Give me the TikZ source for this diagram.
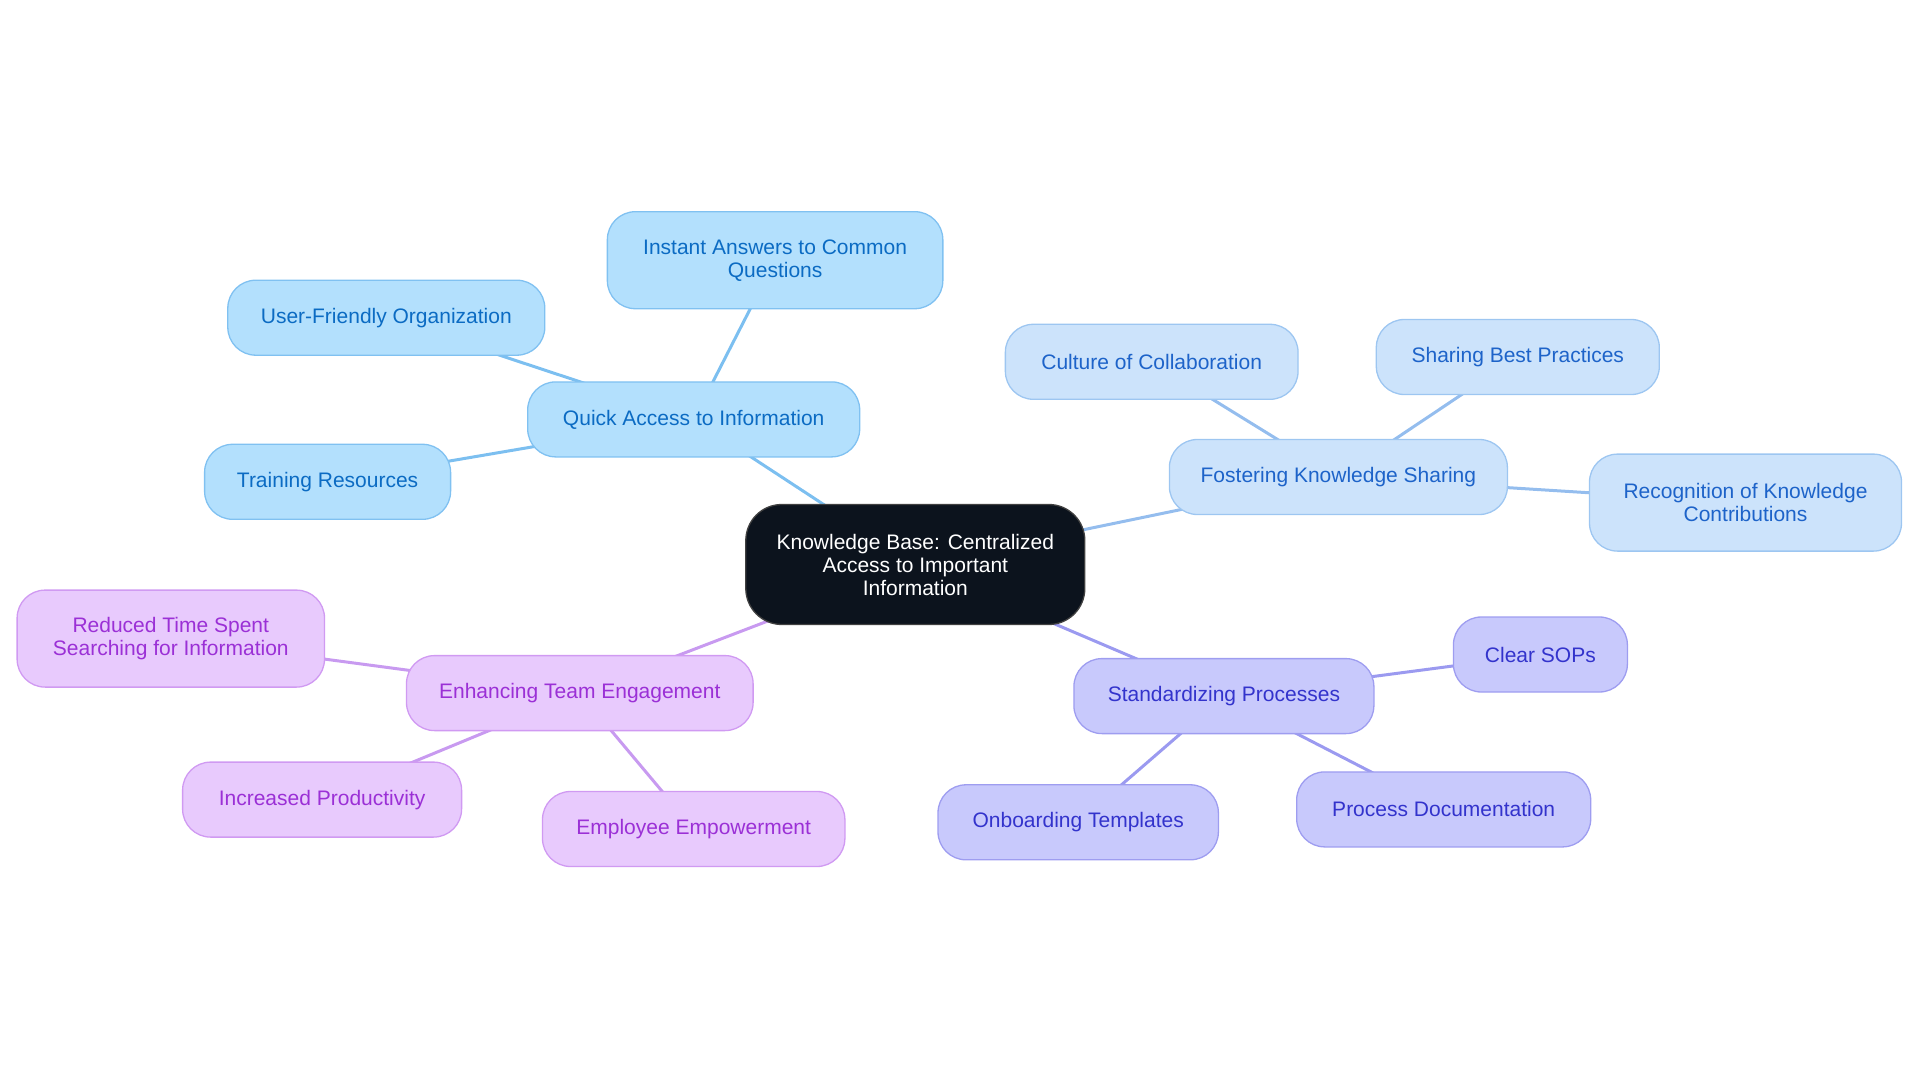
\documentclass[tikz,border=0pt]{standalone}
\usepackage{fontspec}
\setmainfont{Liberation Sans}
\usetikzlibrary{backgrounds}
\definecolor{bfill}{HTML}{B3E0FD}
\definecolor{bdraw}{HTML}{80C1F1}
\definecolor{btext}{HTML}{0B6BC3}
\definecolor{bedge}{HTML}{7CBFF0}
\definecolor{lfill}{HTML}{CCE3FB}
\definecolor{ldraw}{HTML}{9DC6F1}
\definecolor{ltext}{HTML}{1D63C9}
\definecolor{ledge}{HTML}{94BDEE}
\definecolor{ifill}{HTML}{C8C9FC}
\definecolor{idraw}{HTML}{9E9DF0}
\definecolor{itext}{HTML}{3333CC}
\definecolor{iedge}{HTML}{9B9AF0}
\definecolor{pfill}{HTML}{E8CAFD}
\definecolor{pdraw}{HTML}{D09AF2}
\definecolor{ptext}{HTML}{9B30D6}
\definecolor{pedge}{HTML}{C89AF0}
\definecolor{cfill}{HTML}{0C131D}
\tikzset{
  mm/.style={rectangle, rounded corners=28pt, draw, line width=1.3pt, minimum height=75pt,
    align=center, inner sep=0pt, font=\fontsize{21}{23}\selectfont},
  bnode/.style={mm, fill=bfill, draw=bdraw, text=btext},
  lnode/.style={mm, fill=lfill, draw=ldraw, text=ltext},
  inode/.style={mm, fill=ifill, draw=idraw, text=itext},
  pnode/.style={mm, fill=pfill, draw=pdraw, text=ptext},
  cnode/.style={mm, rounded corners=36pt, fill=cfill, draw=black!75, text=white, minimum height=120pt},
  twoline/.style={minimum height=97pt},
  bline/.style={draw=bedge, line width=3pt},
  lline/.style={draw=ledge, line width=3pt},
  iline/.style={draw=iedge, line width=3pt},
  pline/.style={draw=pedge, line width=3pt},
}
\begin{document}
\begin{tikzpicture}[x=1pt,y=-1pt]
\useasboundingbox (0,0) rectangle (1920,1083);
\node[cnode, minimum width=339pt] (c) at (915.3,564.5) {Knowledge Base: Centralized\\Access to Important\\Information};

\node[bnode, minimum width=332pt] (qa) at (693.7,419.4) {Quick Access to Information};
\node[bnode, twoline, minimum width=335.5pt] (ia) at (775.1,260.2) {Instant Answers to Common\\Questions};
\node[bnode, minimum width=317pt] (uf) at (386.3,317.7) {User-Friendly Organization};
\node[bnode, minimum width=246pt] (tr) at (327.6,481.8) {Training Resources};

\node[lnode, minimum width=338pt] (fk) at (1338.4,477) {Fostering Knowledge Sharing};
\node[lnode, minimum width=292.7pt] (cc) at (1151.7,361.8) {Culture of Collaboration};
\node[lnode, minimum width=283pt] (sb) at (1517.8,357) {Sharing Best Practices};
\node[lnode, twoline, minimum width=312pt] (rk) at (1745.5,502.6) {Recognition of Knowledge\\Contributions};

\node[inode, minimum width=300pt] (sp) at (1223.9,696.1) {Standardizing Processes};
\node[inode, minimum width=174pt] (cs) at (1540.4,654.5) {Clear SOPs};
\node[inode, minimum width=280.4pt] (ot) at (1078.2,822.3) {Onboarding Templates};
\node[inode, minimum width=294pt] (pd) at (1443.7,809.4) {Process Documentation};

\node[pnode, minimum width=346.6pt] (et) at (579.8,693.1) {Enhancing Team Engagement};
\node[pnode, twoline, minimum width=307.4pt] (rt) at (170.8,638.6) {Reduced Time Spent\\Searching for Information};
\node[pnode, minimum width=279pt] (ip) at (322.1,799.6) {Increased Productivity};
\node[pnode, minimum width=302.4pt] (ee) at (693.7,829) {Employee Empowerment};

\begin{pgfonlayer}{background}
\draw[bline] (c.center) -- (qa.center);
\draw[bline] (qa.center) -- (ia.center);
\draw[bline] (qa.center) -- (uf.center);
\draw[bline] (qa.center) -- (tr.center);
\draw[lline] (c.center) -- (fk.center);
\draw[lline] (fk.center) -- (cc.center);
\draw[lline] (fk.center) -- (sb.center);
\draw[lline] (fk.center) -- (rk.center);
\draw[iline] (c.center) -- (sp.center);
\draw[iline] (sp.center) -- (cs.center);
\draw[iline] (sp.center) -- (ot.center);
\draw[iline] (sp.center) -- (pd.center);
\draw[pline] (c.center) -- (et.center);
\draw[pline] (et.center) -- (rt.center);
\draw[pline] (et.center) -- (ip.center);
\draw[pline] (et.center) -- (ee.center);
\end{pgfonlayer}
\end{tikzpicture}
\end{document}
